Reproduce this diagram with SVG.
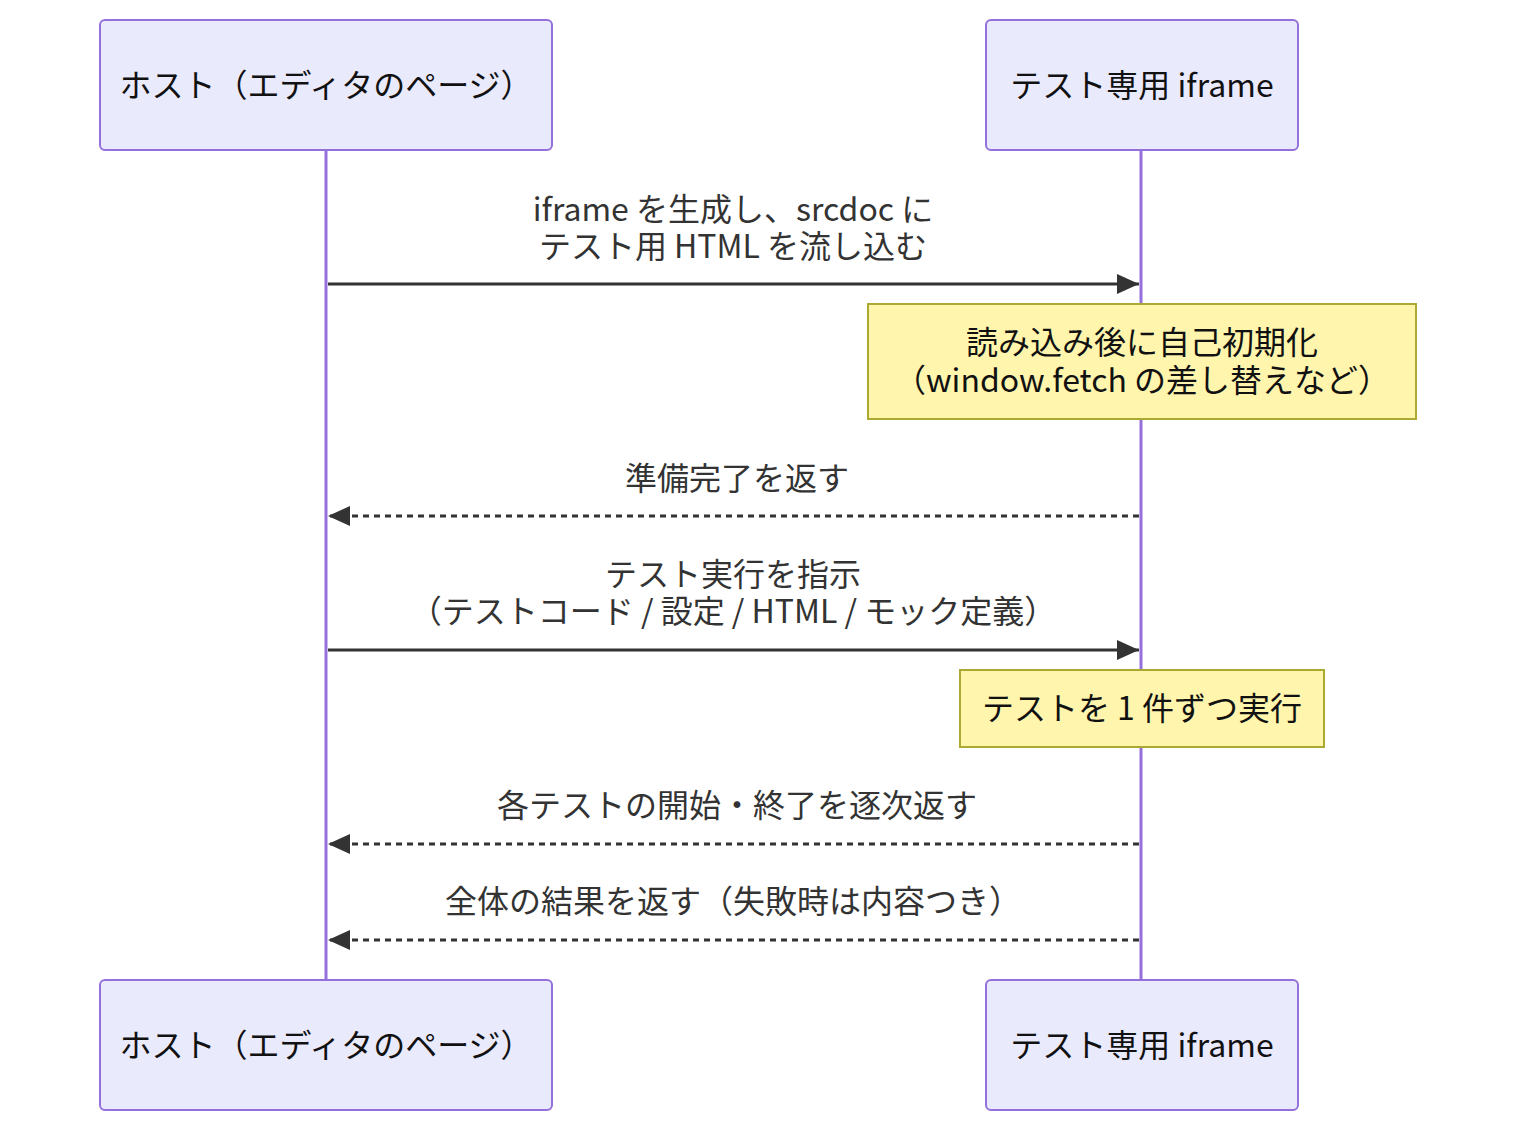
<svg xmlns="http://www.w3.org/2000/svg" width="1516" height="1132" viewBox="0 0 1516 1132">
<style>
text{font-family:"Noto Sans CJK JP","Liberation Sans",sans-serif;font-size:32px;text-anchor:middle;dominant-baseline:central}
.actor rect{fill:#eaeafd;stroke:#9370db;stroke-width:2}
.actor text{fill:#111}
.life{stroke:#9370db;stroke-width:3}
.msg{stroke:#333;stroke-width:3;fill:none}
.dash{stroke-dasharray:6,5}
.mt{fill:#333}
.note rect{fill:#fff5ad;stroke:#aaaa33;stroke-width:2}
.note text{fill:#111}
</style>
<defs>
<marker id="ah" markerWidth="22" markerHeight="20" refX="22" refY="10" orient="auto" markerUnits="userSpaceOnUse">
<path d="M0,0 L22,10 L0,20 Z" fill="#333"/>
</marker>
</defs>
<g id="lifelines">
<line class="life" x1="326" y1="150" x2="326" y2="980"/>
<line class="life" x1="1141" y1="150" x2="1141" y2="980"/>
</g>
<g id="host-top" class="actor"><rect x="100" y="20" width="452" height="130" rx="5"/><text x="326" y="83">ホスト（エディタのページ）</text></g>
<g id="iframe-top" class="actor"><rect x="986" y="20" width="312" height="130" rx="5"/><text x="1142" y="83">テスト専用 iframe</text></g>
<g id="host-bottom" class="actor"><rect x="100" y="980" width="452" height="130" rx="5"/><text x="326" y="1043">ホスト（エディタのページ）</text></g>
<g id="iframe-bottom" class="actor"><rect x="986" y="980" width="312" height="130" rx="5"/><text x="1142" y="1043">テスト専用 iframe</text></g>
<g id="connectors">
<line class="msg" x1="328" y1="284" x2="1139" y2="284" marker-end="url(#ah)"/>
<text class="mt" x="733" y="207">iframe を生成し、srcdoc に</text>
<text class="mt" x="733" y="244">テスト用 HTML を流し込む</text>
<line class="msg dash" x1="1139" y1="516" x2="328" y2="516" marker-end="url(#ah)"/>
<text class="mt" x="737" y="476">準備完了を返す</text>
<line class="msg" x1="328" y1="650" x2="1139" y2="650" marker-end="url(#ah)"/>
<text class="mt" x="733" y="572">テスト実行を指示</text>
<text class="mt" x="733" y="609">（テストコード / 設定 / HTML / モック定義）</text>
<line class="msg dash" x1="1139" y1="844" x2="328" y2="844" marker-end="url(#ah)"/>
<text class="mt" x="737" y="803">各テストの開始・終了を逐次返す</text>
<line class="msg dash" x1="1139" y1="940" x2="328" y2="940" marker-end="url(#ah)"/>
<text class="mt" x="733" y="899">全体の結果を返す（失敗時は内容つき）</text>
</g>
<g id="note1" class="note"><rect x="868" y="304" width="548" height="115"/><text x="1142" y="340">読み込み後に自己初期化</text><text x="1142" y="378">（window.fetch の差し替えなど）</text></g>
<g id="note2" class="note"><rect x="960" y="670" width="364" height="77"/><text x="1142" y="706">テストを 1 件ずつ実行</text></g>
</svg>
